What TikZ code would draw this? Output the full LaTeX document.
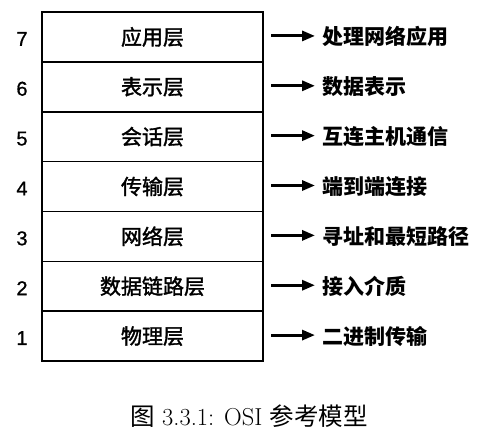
\documentclass[tikz,border=0pt]{standalone}
\usepackage{fontspec}
\usetikzlibrary{arrows.meta}
\newfontfamily\cjk{Noto Sans CJK SC}
\newfontfamily\cjkm[FakeBold=1.6]{Noto Sans CJK SC}
\newfontfamily\digitfont[FakeBold=0.8]{Liberation Sans}
\tikzset{
  layerbox/.style={draw, line width=1.6pt, minimum width=221pt, minimum height=49.86pt, inner sep=0pt, font=\cjkm\fontsize{21}{21}\selectfont},
  num/.style={inner sep=0pt, font=\digitfont\fontsize{20}{20}\selectfont},
  desc/.style={inner sep=0pt, anchor=west, font=\cjk\bfseries\fontsize{21}{21}\selectfont},
  arr/.style={line width=3pt, shorten >=7pt, -{Triangle[length=13pt,width=10pt]}}
}
\begin{document}
\begin{tikzpicture}[x=1pt,y=-1pt]
\useasboundingbox (0,0) rectangle (497,444);
\fill[white] (0,0) rectangle (497,444);
\foreach \i/\lay/\txt in {7/应用层/处理网络应用,6/表示层/数据表示,5/会话层/互连主机通信,4/传输层/端到端连接,3/网络层/寻址和最短路径,2/数据链路层/接入介质,1/物理层/二进制传输}{
  \pgfmathsetmacro{\yc}{12+(7-\i)*49.86+24.93}
  \node[layerbox] (L\i) at (152.5,\yc) {\lay};
  \node[num] (n\i) at (22,\yc+2) {\i};
  \node[desc] (d\i) at (322,\yc) {\txt};
  \coordinate (a\i) at (271,\yc-1);
  \draw[arr] (a\i) -- (a\i -| d\i.west);
}
\node[inner sep=0pt, font=\fontsize{24.5}{24.5}\selectfont] (cap) at (249,416) {{\cjk 图} 3.3.1: OSI {\cjk 参考模型}};
\end{tikzpicture}
\end{document}
